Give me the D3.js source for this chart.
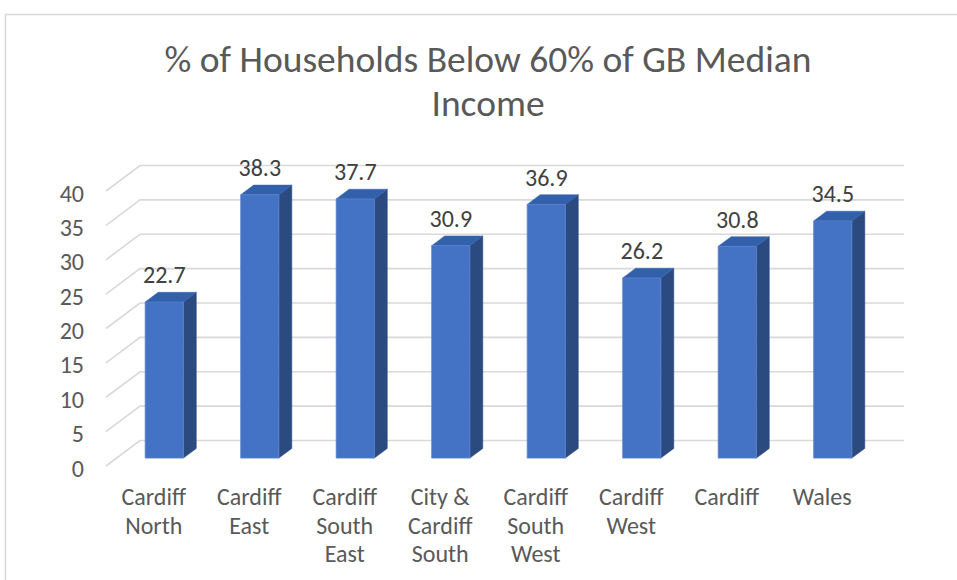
<!DOCTYPE html>
<html>
<head>
<meta charset="utf-8">
<script src="https://cdn.jsdelivr.net/npm/d3@7"></script>
<style>
  body { margin: 0; background: #fff; }
  text { font-family: Carlito, Calibri, Lato, sans-serif; }
</style>
</head>
<body>
<svg id="chart" width="957" height="580"></svg>
<script>
// data
let categories = ["Cardiff North", "Cardiff East", "Cardiff South East", "City & Cardiff South",
                  "Cardiff South West", "Cardiff West", "Cardiff", "Wales"]
let values = [22.7, 38.3, 37.7, 30.9, 36.9, 26.2, 30.8, 34.5]
let y_ticks = [0, 5, 10, 15, 20, 25, 30, 35, 40]
let title_lines = ["% of Households Below 60% of GB Median", "Income"]

let width = 957,
    height = 580
let depth = {dx: 34, dy: -25.5}   // full depth of the 3d box
let bar_depth = [0.31, 0.69]      // front / back of the bars, as fraction of depth

let svg = d3.select("#chart")

function make_scales() {
  return {
    x: d3.scaleBand()
         .domain(categories)
         .range([106, 870]),
    y: d3.scaleLinear()
         .domain([0, 40])
         .range([466, 191])
  }
}

// point in the box: x on front plane, value, depth fraction
function pt(x, v, d, scales) {
  return [x + d * depth.dx, scales.y(v) + d * depth.dy]
}

function draw_frame() {
  svg.append("rect")
    .attrs({x: 5.5, y: 14.5, width: 1000, height: 700, fill: "none", stroke: "#d9d9d9", "stroke-width": 1.5})
}

function draw_grid(scales) {
  let g = svg.append("g").attr("id", "grid")
  let x0 = scales.x.range()[0], x1 = scales.x.range()[1]
  y_ticks.forEach(t => {
    let a = pt(x0, t, 0, scales), b = pt(x0, t, 1, scales), c = pt(x1, t, 1, scales)
    g.append("polyline")
      .attrs({
        points: [a, b, c].map(p => p.join(",")).join(" "),
        fill: "none",
        stroke: "#d9d9d9",
        "stroke-width": 1.6
      })
  })
}

function draw_bars(scales) {
  let bw = scales.x.bandwidth() * 0.4
  let g = svg.append("g").attr("id", "bars")
  let bars = g.selectAll("g.bar")
    .data(categories.map((c, i) => ({name: c, value: values[i]})))
    .enter().append("g").attr("class", "bar")

  let corners = d => {
    let xl = scales.x(d.name) + (scales.x.bandwidth() - bw) / 2
    let xr = xl + bw
    return {
      fbl: pt(xl, 0, bar_depth[0], scales), fbr: pt(xr, 0, bar_depth[0], scales),
      ftl: pt(xl, d.value, bar_depth[0], scales), ftr: pt(xr, d.value, bar_depth[0], scales),
      bbr: pt(xr, 0, bar_depth[1], scales),
      btl: pt(xl, d.value, bar_depth[1], scales), btr: pt(xr, d.value, bar_depth[1], scales)
    }
  }
  let poly = arr => arr.map(p => p.join(",")).join(" ")

  // side
  bars.append("polygon")
    .attrs({
      points: d => { let k = corners(d); return poly([k.fbr, k.ftr, k.btr, k.bbr]) },
      fill: "#2b4a80", stroke: "#2b4a80", "stroke-width": 0.5
    })
  // top
  bars.append("polygon")
    .attrs({
      points: d => { let k = corners(d); return poly([k.ftl, k.ftr, k.btr, k.btl]) },
      fill: "#3360ab", stroke: "#3360ab", "stroke-width": 0.5
    })
  // front
  bars.append("polygon")
    .attrs({
      points: d => { let k = corners(d); return poly([k.fbl, k.fbr, k.ftr, k.ftl]) },
      fill: "#4472c4", stroke: "#5a83cc", "stroke-width": 0.8
    })

  // value labels
  bars.append("text")
    .text(d => d.value)
    .attrs({
      x: d => { let k = corners(d); return (k.ftl[0] + k.ftr[0]) / 2 },
      y: d => { let k = corners(d); return k.btl[1] - 9 },
      "text-anchor": "middle",
      "font-size": 24,
      fill: "#404040"
    })
}

function wrap(words, max_w, size) {
  let probe = svg.append("text").attr("font-size", size)
  let lines = [], cur = ""
  words.split(" ").forEach(w => {
    let test = cur ? cur + " " + w : w
    probe.text(test)
    if (cur && probe.node().getComputedTextLength() > max_w) {
      lines.push(cur)
      cur = w
    } else cur = test
  })
  lines.push(cur)
  probe.remove()
  return lines
}

function annotations(scales) {
  let y_axis = svg.append("g").attr("id", "y_axis")
  y_axis.selectAll("text")
    .data(y_ticks).enter()
    .append("text")
    .text(d => d)
    .attrs({
      x: 84,
      y: d => scales.y(d) + 2,
      "text-anchor": "end",
      "dominant-baseline": "central",
      "font-size": 24,
      fill: "#595959"
    })

  let x_axis = svg.append("g").attr("id", "x_axis")
  categories.forEach(c => {
    let t = x_axis.append("text")
      .attrs({
        x: scales.x(c) + scales.x.bandwidth() / 2,
        y: 505,
        "text-anchor": "middle",
        "font-size": 24,
        fill: "#595959"
      })
    wrap(c, 88, 24).forEach((line, i) => {
      t.append("tspan")
        .attr("x", scales.x(c) + scales.x.bandwidth() / 2)
        .attr("y", 505 + i * 28.7)
        .text(line)
    })
  })

  svg.append("g").attr("id", "title")
    .selectAll("text")
    .data(title_lines).enter()
    .append("text")
    .text(d => d)
    .attrs({
      x: 488,
      y: (d, i) => 72 + i * 44,
      "text-anchor": "middle",
      "font-size": 37.5,
      fill: "#595959"
    })
}

// d3.attrs shim, the multi-attr plugin is not loaded here
d3.selection.prototype.attrs = function(obj) {
  Object.entries(obj).forEach(([k, v]) => this.attr(k, v))
  return this
}

let scales = make_scales()
draw_frame()
draw_grid(scales)
draw_bars(scales)
annotations(scales)
</script>
</body>
</html>
